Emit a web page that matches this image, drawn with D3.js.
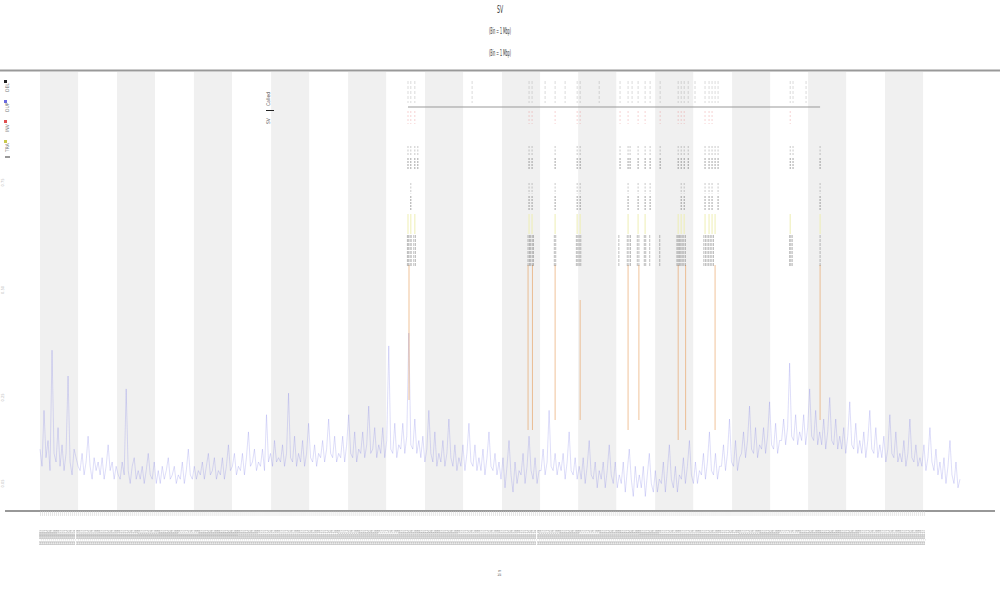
<!DOCTYPE html>
<html><head><meta charset="utf-8">
<script src="https://cdn.jsdelivr.net/npm/d3@7"></script>
<style>body{margin:0;background:#fff}svg{display:block}text{font-family:"DejaVu Sans Condensed","Liberation Sans Narrow",sans-serif}.xt{filter:grayscale(1)}</style>
</head><body><svg id="c" width="1000" height="600"></svg>
<script>
// ---- data ----
const titleLines = ["SV", "(Bin = 1 Mbp)", "(Bin = 1 Mbp)"];
const legendLabels = ["DEL", "DUP", "INV", "TRA"];
const legendColors = ["#222", "#6a6ae0", "#e05050", "#c8c84a"];
const yTickValues = [5, 25, 50, 75];
const yTickLabels = ["0.05", "0.25", "0.50", "0.75"];
const bandStarts = [0, 38.4, 76.8, 115.3, 153.7, 192.1, 230.5, 268.5, 306.9, 345.3, 383.2, 421.6];
const bandWidth = 19;
const tickLabels = d3.range(1, 443).map(n => "bin_" + String(n).padStart(5, "0"));
const coverage = [
 13,9,22,11,15,8,36,12,10,18, 9,14,8,12,30,10,7,13,11,9, 8,12,7,10,16,9,6,11,8,10,
 7,11,6,9,14,8,10,6,9,7, 6,10,7,27,8,5,9,11,6,8, 6,9,5,8,12,7,6,10,5,8,
 5,9,6,8,11,6,7,9,5,7, 6,10,5,8,13,7,6,9,6,8, 7,10,6,9,12,7,8,11,6,8,
 7,11,6,9,14,8,9,12,7,9, 8,12,7,11,17,9,10,13,8,10, 9,13,8,21,10,12,9,15,10,11,
 10,14,9,12,26,11,10,16,9,12, 10,15,9,12,19,11,10,14,9,12, 11,15,10,13,20,12,11,16,10,12,
 11,16,10,14,21,12,11,17,10,13, 12,17,11,14,23,12,13,18,11,14, 12,18,11,15,37,13,12,19,11,14,
 13,19,12,16,40,14,13,20,12,15, 11,16,10,13,22,12,10,17,9,12, 10,15,9,12,20,11,9,14,8,11,
 9,14,8,12,19,10,9,14,8,11, 8,13,7,11,17,9,8,12,7,10, 6,11,4,9,15,7,3,10,5,8,
 7,12,5,9,16,8,6,11,5,8, 8,13,7,10,22,9,8,12,7,10, 8,12,6,10,17,8,7,11,6,9,
 6,11,5,9,15,7,6,10,4,8, 6,10,4,8,14,7,5,10,4,7, 5,10,3,8,13,6,2,9,4,7,
 4,9,2,7,12,5,3,8,3,6, 5,10,3,8,14,6,4,9,3,7, 6,11,5,9,15,7,5,10,5,8,
 7,12,6,10,17,8,7,12,6,9, 9,14,8,12,20,10,9,15,8,11, 12,17,11,15,23,13,12,18,11,14,
 13,18,12,16,24,14,13,19,12,15, 15,20,14,18,33,16,15,21,14,17, 15,21,14,18,27,16,15,22,14,17,
 14,20,13,17,25,15,14,20,13,16, 13,18,12,16,24,14,13,19,12,15, 12,17,11,15,22,13,12,18,11,14,
 11,16,10,13,21,12,11,17,10,12, 10,15,9,12,20,11,10,14,9,11, 9,14,8,11,18,10,8,13,7,10,
 6,11,5,9,15,7,5,10,4,6
];
const topMarks   = [183.6,185,187,215.6,244,245.5,252,257,262,268,269.5,279,289.4,293.4,295.4,298.4,301.9,304.4,309.4,318.4,319.9,321.4,323.4,326.8,331.8,333.8,335.3,336.8,338.3,374.3,375.7,382.2];
const redMarks   = [183.6,185,187,244,245.5,257,268,269.5,289.4,293.4,298.4,301.9,309.4,318.4,319.9,321.4,331.8,333.8,335.3,374.3];
const blkMarks1  = [183.6,185,187,188.5,244,245.5,257,268,269.5,289.4,293.4,294.4,298.4,301.9,304.4,309.4,318.4,319.9,321.4,323.4,331.8,333.8,335.3,336.8,338.3,374.3,375.7,389.2];
const blkMarks2  = [185,244,245.5,257,268,269.5,293.4,298.4,301.9,304.4,319.9,321.4,331.8,333.8,335.3,338.3,389.2];
const yelMarks   = [183.6,185,187,244,245.5,257,268,269.5,293.4,298.4,301.9,318.4,319.9,321.4,331.8,333.8,335.3,336.8,374.3,389.2];
const densMarks  = [183.3,183.8,184.6,185.2,186.5,187.3,243.5,244.2,244.8,245.6,246.2,256.6,257.3,267.6,268.3,269,269.8,288.8,293,293.8,294.6,298,298.8,301.5,302.2,304.2,309.2,317.8,318.4,319,319.7,320.4,321.2,322,331.2,332,332.8,333.6,334.4,335.2,336,374,374.6,375.3,389.2];
const orangeMarks = [[184.1,265,400],[243.5,265,430],[245.7,265,430],[257,265,420],[269.5,300,420],[293.4,265,430],[298.8,265,420],[318.4,265,440],[322.1,265,430],[336.8,265,430],[389.2,265,420]];
const baseSpan = [183.6, 389.2];

// ---- chart ----
const svg = d3.select("#c");
const x = d3.scaleLinear().domain([0, 460]).range([40, 962]);
const y = d3.scaleLinear().domain([0, 100]).range([505, 75]);

svg.append("g").selectAll("rect").data(bandStarts).join("rect")
  .attr("x", d => x(d)).attr("y", 72).attr("width", d => x(d + bandWidth) - x(d)).attr("height", 438)
  .attr("fill", "#f0f0f0");

svg.append("line").attr("x1", 0).attr("x2", 1000).attr("y1", 70.5).attr("y2", 70.5).attr("stroke", "#999").attr("stroke-width", 2);

// title
const ty = [13, 34, 56];
svg.append("g").selectAll("text").data(titleLines).join("text")
  .attr("x", 500).attr("y", (d, i) => ty[i]).attr("text-anchor", "middle")
  .attr("font-size", (d, i) => i ? 9 : 11).attr("fill", "#333")
  .attr("textLength", (d, i) => i ? 22 : 6).attr("lengthAdjust", "spacingAndGlyphs")
  .text(d => d);

// coverage line
svg.append("path").datum(coverage)
  .attr("d", d3.line().x((d, i) => x(i)).y(d => y(d)))
  .attr("fill", "none").attr("stroke", "#6a6ae6").attr("stroke-width", 0.5).attr("stroke-opacity", 0.45);

// orange lines
svg.append("g").selectAll("line").data(orangeMarks).join("line")
  .attr("x1", d => x(d[0])).attr("x2", d => x(d[0])).attr("y1", d => d[1]).attr("y2", d => d[2])
  .attr("stroke", "#e8a060").attr("stroke-width", 0.8).attr("stroke-opacity", 0.8);

function track(data, y1, y2, color, w, dash, op) {
  svg.append("g").selectAll("line").data(data).join("line")
    .attr("x1", d => x(d)).attr("x2", d => x(d)).attr("y1", y1).attr("y2", y2)
    .attr("stroke", color).attr("stroke-width", w).attr("stroke-opacity", op)
    .attr("stroke-dasharray", dash);
}
track(topMarks, 81, 103, "#999", 0.5, "3,2", 0.7);
svg.append("line").attr("x1", x(baseSpan[0])).attr("x2", x(baseSpan[1])).attr("y1", 107).attr("y2", 107).attr("stroke", "#999").attr("stroke-width", 1);
track(redMarks, 111, 124, "#e88080", 0.5, "2,2", 0.7);
track(blkMarks1, 146, 155, "#777", 0.5, "2,1.5", 0.8);
track(blkMarks1, 158, 170, "#444", 0.6, "2,1", 0.8);
track(blkMarks2, 183, 194, "#777", 0.5, "2,1.5", 0.8);
track(blkMarks2, 196, 210, "#444", 0.6, "2,1", 0.8);
track(yelMarks, 214, 234, "#eeeeb0", 1.2, null, 0.8);
track(densMarks, 235, 266, "#444", 0.5, "3,1", 0.7);

// legend
const lg = svg.append("g");
legendLabels.forEach((l, i) => {
  const yy = 92 + i * 20;
  lg.append("rect").attr("x", 4).attr("y", yy - 12).attr("width", 3).attr("height", 3).attr("fill", legendColors[i]);
  lg.append("text").attr("transform", `translate(9,${yy}) rotate(-90)`).attr("font-size", 5).attr("fill", "#777").text(l);
});
lg.append("line").attr("x1", 5).attr("x2", 10).attr("y1", 157).attr("y2", 157).attr("stroke", "#333");
svg.append("text").attr("transform", "translate(270,106) rotate(-90)").attr("font-size", 5).attr("fill", "#555").text("Called");
svg.append("line").attr("x1", 266).attr("x2", 274).attr("y1", 110.5).attr("y2", 110.5).attr("stroke", "#222");
svg.append("text").attr("transform", "translate(270,124) rotate(-90)").attr("font-size", 5).attr("fill", "#555").text("SV");

// y tick labels
svg.append("g").selectAll("text").data(yTickValues).join("text")
  .attr("transform", d => `translate(4,${y(d)}) rotate(-90)`).attr("text-anchor", "middle")
  .attr("font-size", 4).attr("fill", "#bbb").text((d, i) => yTickLabels[i]);

// x axis
svg.append("line").attr("x1", 5).attr("x2", 995).attr("y1", 511).attr("y2", 511).attr("stroke", "#333").attr("stroke-width", 1.2);
const xa = svg.append("g").attr("class", "xt").attr("transform", "translate(0,511)")
  .call(d3.axisBottom(x).tickValues(d3.range(tickLabels.length)).tickFormat((d, i) => tickLabels[i]).tickSize(5).tickSizeOuter(0));
xa.select(".domain").remove();
xa.selectAll(".tick line").attr("stroke", "#ccc").attr("stroke-width", 0.5);
xa.selectAll(".tick text").attr("font-size", 2.6).attr("fill", "#888")
  .attr("textLength", 15).attr("lengthAdjust", "spacingAndGlyphs")
  .attr("transform", "rotate(-90)").attr("text-anchor", "end").attr("dy", "0.35em").attr("x", -19).attr("y", 0);
svg.append("text").attr("transform", "translate(501,573) rotate(-90)").attr("text-anchor", "middle").attr("font-size", 5).attr("fill", "#777").text("bin");
</script></body></html>
